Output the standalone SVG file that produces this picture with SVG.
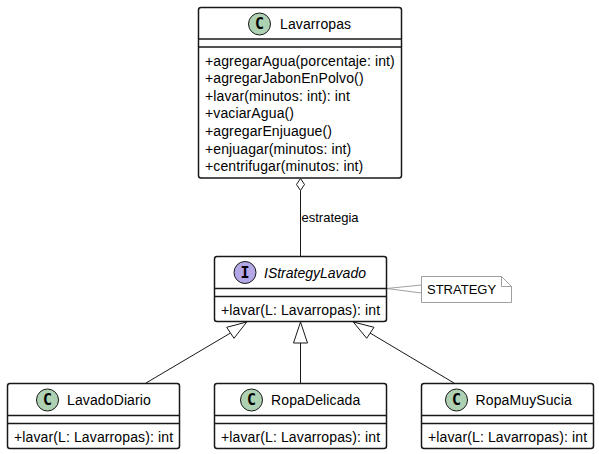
<svg xmlns="http://www.w3.org/2000/svg" width="599" height="454" viewBox="0 0 599 454">
<style>
text{font-family:"Liberation Sans",Arial,sans-serif;font-size:14px;letter-spacing:.12px;fill:#000}
.box{fill:#fff;stroke:#181818;stroke-width:1.5}
.sep{stroke:#181818;stroke-width:1.5;fill:none}
.cc{fill:#ADD1B2;stroke:#181818;stroke-width:1}
.ci{fill:#B4A7E5;stroke:#181818;stroke-width:1}
text.g{font-family:"DejaVu Sans Mono",monospace;font-weight:bold;font-size:15px;text-anchor:middle;letter-spacing:0}
.edge{stroke:#181818;stroke-width:1;fill:none}
.head{stroke:#181818;stroke-width:1;fill:#fff}
.note{fill:#fff;stroke:#888;stroke-width:.8}
text.lbl{font-size:13px;letter-spacing:0}
text.it{font-style:italic;letter-spacing:0}
</style>
<rect width="599" height="454" fill="#fff"/>
<g id="connectors">
<path class="edge" d="M300.5 190.5V256.5"/>
<polygon class="head" points="300.5,178.5 304.5,184.5 300.5,190.5 296.5,184.5"/>
<text class="lbl" x="301.5" y="222">estrategia</text>
<path class="edge" d="M146 383L230.5 333"/>
<polygon class="head" points="246.7,322 226.7,327.3 234,338.3"/>
<path class="edge" d="M300.5 383V343"/>
<polygon class="head" points="300.5,322 293.5,343 307.5,343"/>
<path class="edge" d="M454 383L370 333"/>
<polygon class="head" points="353.3,322 366.7,338.3 374,327.3"/>
<polygon class="note" points="386.5,288.5 421.5,285 421.5,293" style="fill:none"/>
</g>
<g id="Lavarropas">
<rect class="box" x="198.5" y="7.5" width="203" height="170.5" rx="2.5"/>
<path class="sep" d="M198.5 39H401.5M198.5 47H401.5"/>
<circle class="cc" cx="259.5" cy="24" r="11"/>
<text class="g" x="259.5" y="29">C</text>
<text x="280" y="29">Lavarropas</text>
<text x="205" y="66">+agregarAgua(porcentaje: int)</text>
<text x="205" y="83">+agregarJabonEnPolvo()</text>
<text x="205" y="101">+lavar(minutos: int): int</text>
<text x="205" y="118">+vaciarAgua()</text>
<text x="205" y="136">+agregarEnjuague()</text>
<text x="205" y="154">+enjuagar(minutos: int)</text>
<text x="205" y="171">+centrifugar(minutos: int)</text>
</g>
<g id="IStrategyLavado">
<rect class="box" x="214.5" y="256.5" width="172" height="65" rx="2.5"/>
<path class="sep" d="M214.5 288.5H386.5M214.5 296.5H386.5"/>
<circle class="ci" cx="245" cy="272.5" r="11"/>
<text class="g" x="245" y="277.5">I</text>
<text class="it" x="264" y="278">IStrategyLavado</text>
<text x="221" y="315">+lavar(L: Lavarropas): int</text>
</g>
<g id="STRATEGY">
<path class="note" d="M421.5 276.5H501.5L511.5 286.5V302.5H421.5Z"/>
<path class="note" d="M501.5 276.5V286.5H511.5" style="fill:none"/>
<text class="lbl" x="427" y="294">STRATEGY</text>
</g>
<g id="LavadoDiario">
<rect class="box" x="7.5" y="383.5" width="172" height="65" rx="2.5"/>
<path class="sep" d="M7.5 415.5H179.5M7.5 423.5H179.5"/>
<circle class="cc" cx="47.5" cy="400" r="11"/>
<text class="g" x="47.5" y="405">C</text>
<text x="67" y="405">LavadoDiario</text>
<text x="14" y="442">+lavar(L: Lavarropas): int</text>
</g>
<g id="RopaDelicada">
<rect class="box" x="214.5" y="383.5" width="172" height="65" rx="2.5"/>
<path class="sep" d="M214.5 415.5H386.5M214.5 423.5H386.5"/>
<circle class="cc" cx="251.5" cy="400" r="11"/>
<text class="g" x="251.5" y="405">C</text>
<text x="271" y="405">RopaDelicada</text>
<text x="221" y="442">+lavar(L: Lavarropas): int</text>
</g>
<g id="RopaMuySucia">
<rect class="box" x="421.5" y="383.5" width="172" height="65" rx="2.5"/>
<path class="sep" d="M421.5 415.5H593.5M421.5 423.5H593.5"/>
<circle class="cc" cx="456.5" cy="400" r="11"/>
<text class="g" x="456.5" y="405">C</text>
<text x="475.5" y="405">RopaMuySucia</text>
<text x="428" y="442">+lavar(L: Lavarropas): int</text>
</g>
</svg>
